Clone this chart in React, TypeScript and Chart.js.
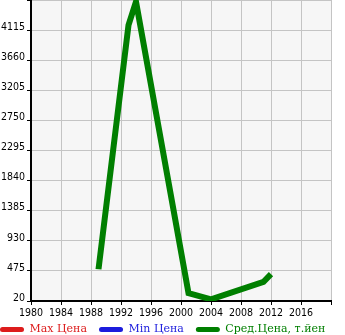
import React, { useEffect, useRef } from 'react';
import { Chart, registerables } from 'chart.js';

Chart.register(...registerables);

const years = [1989, 1993, 1994, 2001, 2004, 2011, 2012];
const avgPrice = [500, 4190, 4545, 140, 45, 310, 425];
const maxPrice: number[] = [];
const minPrice: number[] = [];
const seriesNames = ['Max Цена', 'Min Цена', 'Сред.Цена, т.йен'];
const seriesColors = ['#dd1c1c', '#1c1cdd', '#007f00'];
const xMin = 1980;
const xMax = 2020;
const xStep = 4;
const yMin = 20;
const yMax = 4570;
const yStep = 455;

const bgPlugin = {
  id: 'plotBg',
  beforeDraw(chart: any) {
    const { ctx, chartArea } = chart;
    if (!chartArea) return;
    ctx.save();
    ctx.fillStyle = '#f6f6f6';
    ctx.fillRect(chartArea.left, chartArea.top, chartArea.right - chartArea.left, chartArea.bottom - chartArea.top);
    ctx.restore();
  },
};

const legendShift = {
  id: 'legendShift',
  afterLayout(chart: any) {
    const l = chart.legend;
    if (l) {
      l.top -= 9;
      l.bottom -= 9;
    }
  },
};

const tickFont = { family: "'DejaVu Sans Condensed', 'DejaVu Sans', sans-serif", size: 10.5 };

export default function App() {
  const ref = useRef<HTMLCanvasElement | null>(null);
  useEffect(() => {
    if (!ref.current) return;
    const chart = new Chart(ref.current, {
      type: 'line',
      data: {
        datasets: [
          { label: seriesNames[0], data: maxPrice.map((v, i) => ({ x: years[i], y: v })), borderColor: seriesColors[0], backgroundColor: seriesColors[0] },
          { label: seriesNames[1], data: minPrice.map((v, i) => ({ x: years[i], y: v })), borderColor: seriesColors[1], backgroundColor: seriesColors[1] },
          {
            label: seriesNames[2],
            data: avgPrice.map((v, i) => ({ x: years[i], y: v })),
            borderColor: seriesColors[2],
            backgroundColor: seriesColors[2],
            borderWidth: 6,
            pointRadius: 0,
            tension: 0,
          },
        ],
      },
      options: {
        animation: false,
        responsive: false,
        layout: { padding: { left: -12, right: 0, top: 0, bottom: -19 } },
        plugins: {
          legend: {
            position: 'bottom',
            align: 'start',
            labels: {
              boxWidth: 24,
              boxHeight: 5,
              useBorderRadius: true,
              borderRadius: 2.5,
              padding: 12,
              font: { family: "'DejaVu Serif', serif", size: 11 },
              generateLabels: (chart: any) =>
                chart.data.datasets.map((ds: any, i: number) => ({
                  text: ds.label,
                  fillStyle: seriesColors[i],
                  strokeStyle: seriesColors[i],
                  lineWidth: 0,
                  fontColor: seriesColors[i],
                  datasetIndex: i,
                  hidden: false,
                  borderRadius: 2.5,
                })),
            },
          },
          tooltip: { enabled: false },
        },
        scales: {
          x: {
            type: 'linear',
            min: xMin,
            max: xMax,
            ticks: {
              stepSize: xStep,
              color: '#000',
              font: tickFont,
              padding: 2,
              maxRotation: 0,
              autoSkip: false,
              callback: (v: any) => (v === xMax ? '' : String(v)),
            },
            grid: { color: '#c4c4c4', tickColor: '#000', tickLength: 4, lineWidth: 1 },
            border: { color: '#000', width: 2 },
            afterFit: (s: any) => { s.height = 20; s.paddingLeft = 0; s.paddingRight = 0; },
          },
          y: {
            type: 'linear',
            position: 'left',
            min: yMin,
            max: yMax,
            ticks: {
              stepSize: yStep,
              color: '#000',
              font: tickFont,
              padding: 2,
              labelOffset: -3,
              callback: (v: any) => (v === yMax ? '' : String(v)),
            },
            grid: { color: '#c4c4c4', tickColor: '#000', tickLength: 4, lineWidth: 1 },
            border: { color: '#000', width: 2 },
            afterFit: (s: any) => { s.width = 43; s.paddingTop = 0; s.paddingBottom = 0; },
          },
          yRight: {
            type: 'linear',
            position: 'right',
            display: true,
            min: yMin,
            max: yMax,
            ticks: { display: false },
            grid: { display: false, drawTicks: false },
            border: { display: false },
            afterFit: (s: any) => { s.width = 14; s.paddingTop = 0; s.paddingBottom = 0; },
          },
        },
      },
      plugins: [bgPlugin, legendShift],
    } as any);
    return () => chart.destroy();
  }, []);
  return (
    <div style={{ position: 'absolute', left: 0, top: 0, width: 345, height: 335, background: '#fff' }}>
      <canvas ref={ref} width={345} height={335} />
    </div>
  );
}
